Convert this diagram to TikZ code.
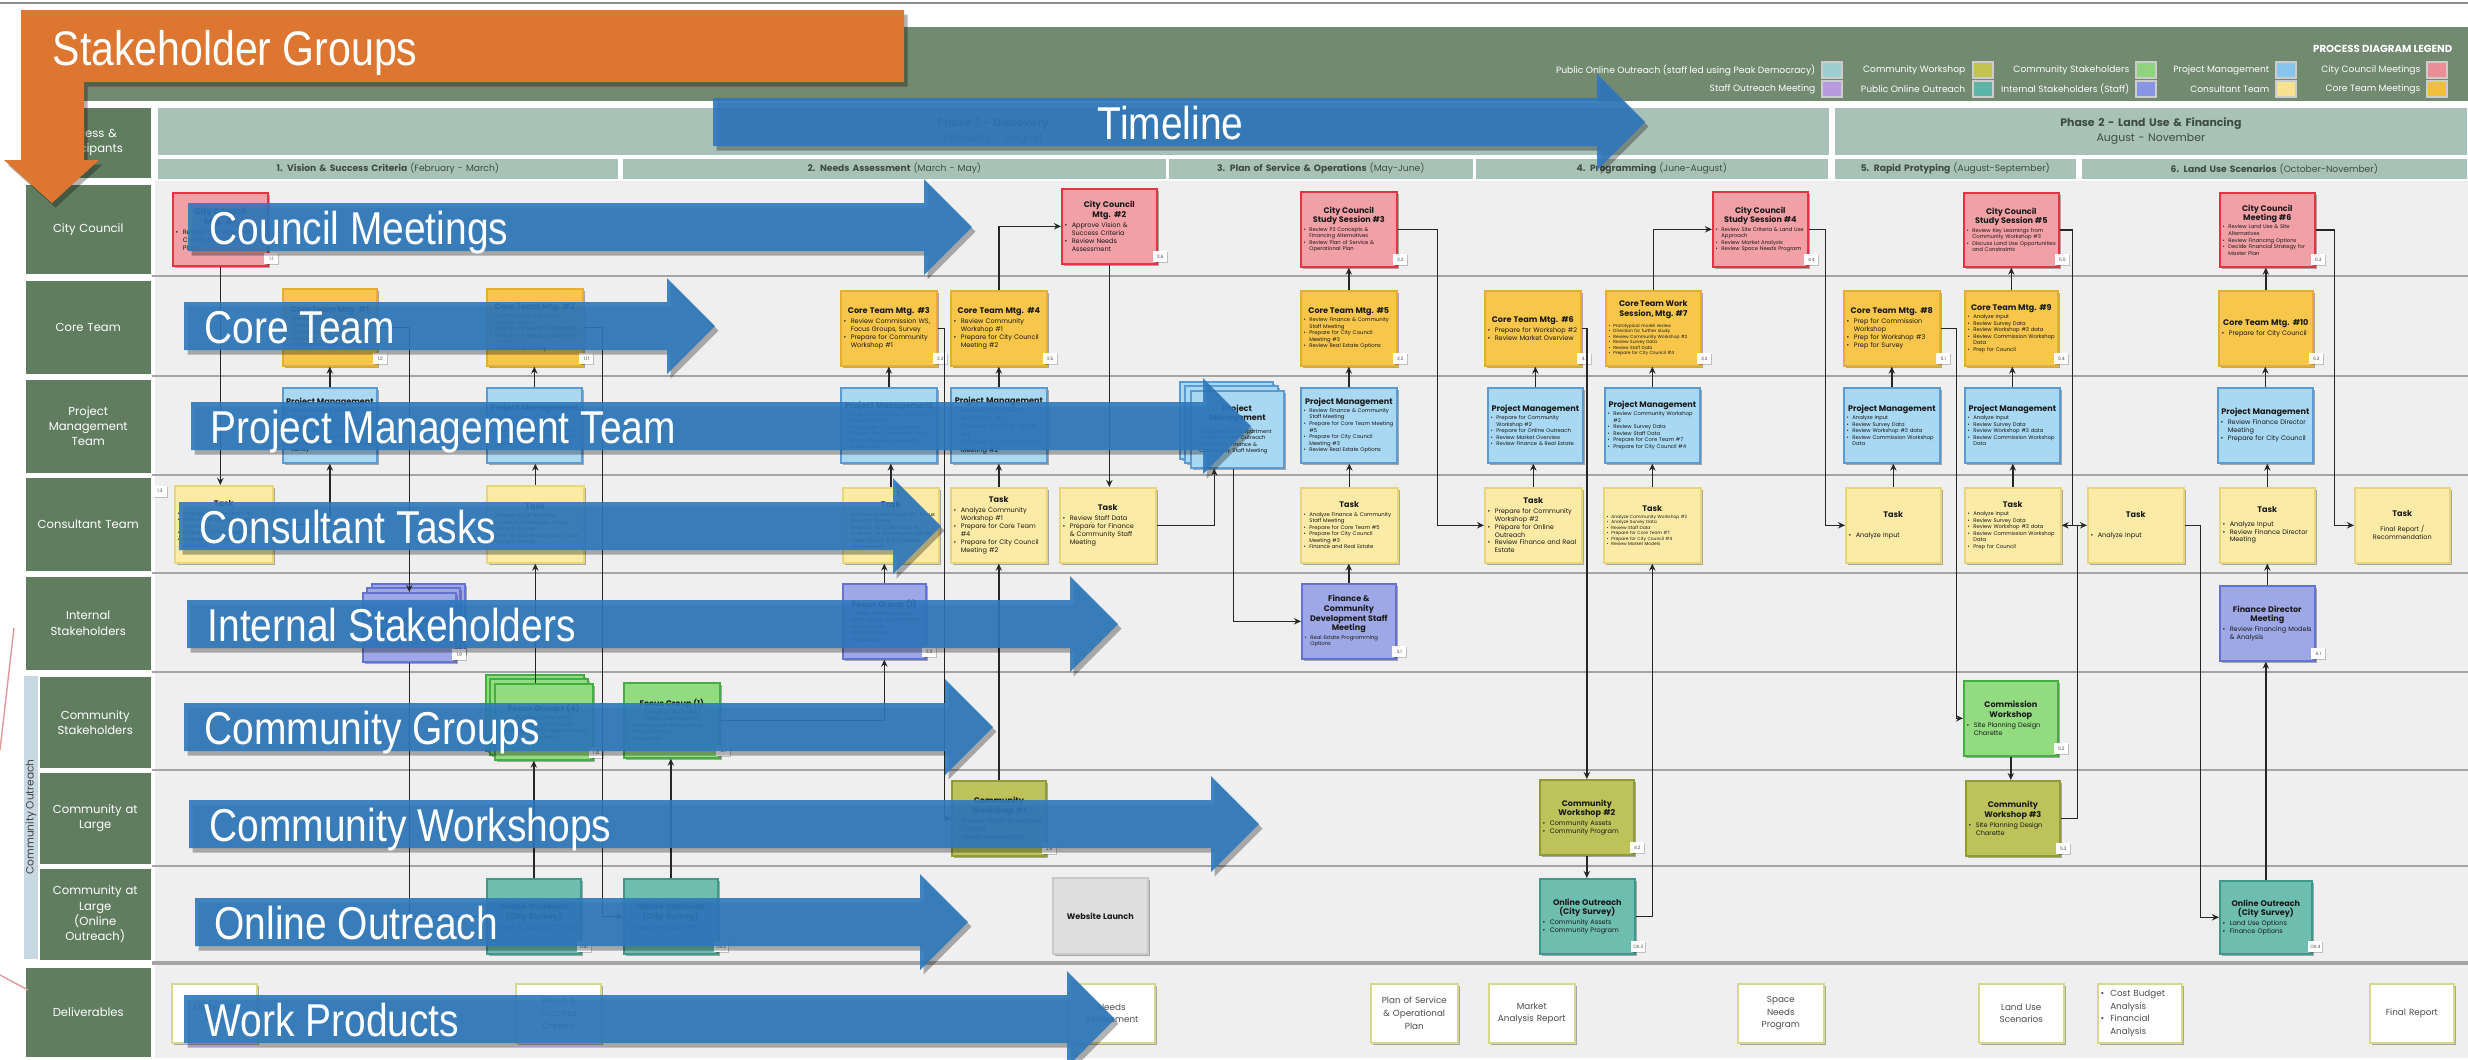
\documentclass[tikz,border=0pt]{standalone}
\usepackage{fontspec}
\setmainfont{Poppins}
\newfontfamily\bigf[FakeStretch=0.845]{Liberation Sans}
\usetikzlibrary{shadows,arrows.meta}
\definecolor{hdrgreen}{HTML}{718A70}
\definecolor{lblgreen}{HTML}{617D60}
\definecolor{phasecol}{HTML}{A9C2B7}
\definecolor{phtext}{HTML}{3C4C43}
\definecolor{lanebg}{HTML}{EFEFEF}
\definecolor{sepgray}{HTML}{A5A5A5}
\definecolor{ccfill}{HTML}{F1A0A6}\definecolor{ccdraw}{HTML}{E23445}
\definecolor{ctfill}{HTML}{F7C64A}\definecolor{ctdraw}{HTML}{E5AE2E}
\definecolor{pmfill}{HTML}{A8D8F2}\definecolor{pmdraw}{HTML}{5B9BD2}
\definecolor{tkfill}{HTML}{FCEBA6}\definecolor{tkdraw}{HTML}{E9D57C}
\definecolor{isfill}{HTML}{9FA8E6}\definecolor{isdraw}{HTML}{6373CF}
\definecolor{csfill}{HTML}{93DB80}\definecolor{csdraw}{HTML}{45AE40}
\definecolor{cwfill}{HTML}{BDC35A}\definecolor{cwdraw}{HTML}{8F9B35}
\definecolor{oofill}{HTML}{6EBEAF}\definecolor{oodraw}{HTML}{3F988A}
\definecolor{webfill}{HTML}{DEDEDE}\definecolor{webdraw}{HTML}{C9C9C9}
\definecolor{deldraw}{HTML}{D6D88C}
\definecolor{arrowblue}{HTML}{2E78BD}
\definecolor{orangec}{HTML}{DD7630}
\definecolor{stripc}{HTML}{C8D8E2}
\definecolor{lgA}{HTML}{9ECFD0}\definecolor{lgB}{HTML}{C3C34F}
\definecolor{lgC}{HTML}{8FD47C}\definecolor{lgD}{HTML}{88C4EC}
\definecolor{lgE}{HTML}{EC8E97}\definecolor{lgF}{HTML}{B89AE0}
\definecolor{lgG}{HTML}{5CB5A6}\definecolor{lgH}{HTML}{8895E2}
\definecolor{lgI}{HTML}{F6E290}\definecolor{lgJ}{HTML}{F1BF3E}
\hyphenpenalty=10000
\exhyphenpenalty=10000
\newcommand\bA{\fontsize{1.85pt}{2.25pt}\selectfont}
\newcommand\bB{\fontsize{1.5pt}{1.85pt}\selectfont}
\newcommand\bC{\fontsize{1.25pt}{1.55pt}\selectfont}
\newcommand\lF{\fontsize{3.3pt}{4.3pt}\selectfont}
\newcommand\phF{\fontsize{3.1pt}{4.4pt}\selectfont}
\newcommand\spF{\fontsize{2.6pt}{3pt}\selectfont}
\newcommand\dF{\fontsize{2.5pt}{3.6pt}\selectfont}
\newcommand\lgF{\fontsize{2.6pt}{3pt}\selectfont}
\newcommand\bxti[1]{{\centering\fontsize{2.3pt}{2.75pt}\selectfont\bfseries #1\par}\vspace{0.5pt}}
\newcommand\bxbl[1]{{\hangindent=1.1em\hangafter=1\noindent\hbox to 1.1em{\textbullet\hss}#1\par}}
\newcommand\subt[1]{{\centering #1\par}}
\tikzset{
 basebox/.style={draw, line width=0.45pt, inner xsep=0.8pt, inner ysep=1.2pt, align=left, font=\bA, text=black!90,
   drop shadow={shadow xshift=0.5pt,shadow yshift=-0.5pt,opacity=0.3,fill=black}},
 ccb/.style={basebox, fill=ccfill, draw=ccdraw},
 ctb/.style={basebox, fill=ctfill, draw=ctdraw},
 pmb/.style={basebox, fill=pmfill, draw=pmdraw},
 tkb/.style={basebox, fill=tkfill, draw=tkdraw},
 isb/.style={basebox, fill=isfill, draw=isdraw},
 csb/.style={basebox, fill=csfill, draw=csdraw},
 cwb/.style={basebox, fill=cwfill, draw=cwdraw},
 oob/.style={basebox, fill=oofill, draw=oodraw},
 webb/.style={basebox, fill=webfill, draw=webdraw, align=center},
 delb/.style={basebox, fill=white, draw=deldraw, align=center, font=\dF, text=black!70},
 lblb/.style={fill=lblgreen, text=white, align=center, font=\lF, inner sep=0.8pt},
 phaseb/.style={fill=phasecol, align=center, font=\phF, text=phtext, inner sep=0.8pt},
 subph/.style={fill=phasecol, align=center, font=\spF, text=phtext, inner sep=0.5pt},
 tagb/.style={fill=white, inner sep=0.3pt, minimum width=0.14cm, minimum height=0.11cm, font=\fontsize{1.3pt}{1.4pt}\selectfont, text=black!70,
   drop shadow={shadow xshift=0.3pt,shadow yshift=-0.3pt,opacity=0.2,fill=black}},
 conn/.style={draw=black!85, line width=0.45pt, -{Stealth[length=2pt,width=1.8pt]}},
 swatch/.style={minimum width=0.2cm, minimum height=0.16cm, inner sep=0pt, draw=white!80!black, line width=0.3pt},
 legtxt/.style={font=\lgF, text=white, inner sep=0pt},
 bigtxt/.style={font=\bigf\fontsize{13.1pt}{15pt}\selectfont, text=white, inner sep=0pt},
}
\newcommand\bx[7]{%
  \pgfmathsetmacro\bxw{(#5-#3)*0.284528}%
  \pgfmathsetmacro\bxh{(#6-#4)*0.284528}%
  \pgfmathsetmacro\bxt{\bxw-1.6}%
  \node[#2,anchor=north west,minimum width=\bxw pt,minimum height=\bxh pt,text width=\bxt pt] (#1) at (#3,#4) {#7};%
}
\newcommand\tg[2]{\node[tagb,anchor=south west] (#1t) at ([shift={(-5,-2)}]#1.south east) {#2};}
\newcommand\barrow[6]{%
  \fill[arrowblue,fill opacity=0.9,drop shadow={shadow xshift=1pt,shadow yshift=-1.3pt,opacity=0.3,fill=black}]
    (#2,#4-24) -- (#3,#4-24) -- (#3,#4-48) -- (#3+48,#4) -- (#3,#4+48) -- (#3,#4+24) -- (#2,#4+24) -- cycle;%
  \node[bigtxt,anchor=base west] (#1) at (#6,#4+17) {#5};%
}
\begin{document}
\begin{tikzpicture}[x=0.01cm,y=-0.01cm]
\useasboundingbox (0,0) rectangle (2468,1060);
\fill[white] (0,0) rectangle (2468,1060);
\draw[black!45, line width=0.7pt] (0,3) -- (2468,3);
% header band
\fill[hdrgreen] (25,27) rectangle (2468,101);
% legend
\node[font=\fontsize{2.9pt}{3.3pt}\selectfont\bfseries, text=white, anchor=east, inner sep=0pt] (legt) at (2453,49) {PROCESS DIAGRAM LEGEND};
\node[swatch, fill=lgA] (sw1) at (1832,70) {};
\node[legtxt, anchor=east] (lg1) at (1816,70) {Public Online Outreach (staff led using Peak Democracy)};
\node[swatch, fill=lgB] (sw2) at (1983,70) {};
\node[legtxt, anchor=east] (lg2) at (1966,70) {Community Workshop};
\node[swatch, fill=lgC] (sw3) at (2146,70) {};
\node[legtxt, anchor=east] (lg3) at (2130,70) {Community Stakeholders};
\node[swatch, fill=lgD] (sw4) at (2286,70) {};
\node[legtxt, anchor=east] (lg4) at (2270,70) {Project Management};
\node[swatch, fill=lgE] (sw5) at (2437,70) {};
\node[legtxt, anchor=east] (lg5) at (2421,70) {City Council Meetings};
\node[swatch, fill=lgF] (sw6) at (1832,89) {};
\node[legtxt, anchor=east] (lg6) at (1816,89) {Staff Outreach Meeting};
\node[swatch, fill=lgG] (sw7) at (1983,89) {};
\node[legtxt, anchor=east] (lg7) at (1966,89) {Public Online Outreach};
\node[swatch, fill=lgH] (sw8) at (2146,89) {};
\node[legtxt, anchor=east] (lg8) at (2130,89) {Internal Stakeholders (Staff)};
\node[swatch, fill=lgI] (sw9) at (2286,89) {};
\node[legtxt, anchor=east] (lg9) at (2270,89) {Consultant Team};
\node[swatch, fill=lgJ] (sw10) at (2437,89) {};
\node[legtxt, anchor=east] (lg10) at (2421,89) {Core Team Meetings};
% phase headers
\bx{ph0}{lblb}{25}{107}{150}{177}{Process \&\\Participants}
\bx{ph1}{phaseb}{157}{107}{1827}{154}{{\bfseries Phase 1 - Discovery}\\February - August}
\bx{ph2}{phaseb}{1834}{107}{2466}{154}{{\bfseries Phase 2 - Land Use \& Financing}\\August - November}
\bx{sp1}{subph}{157}{158}{617}{178}{{\bfseries 1. Vision \& Success Criteria} (February - March)}
\bx{sp2}{subph}{622}{158}{1165}{178}{{\bfseries 2. Needs Assessment} (March - May)}
\bx{sp3}{subph}{1168}{158}{1472}{178}{{\bfseries 3. Plan of Service \& Operations} (May-June)}
\bx{sp4}{subph}{1475}{158}{1827}{178}{{\bfseries 4. Programming} (June-August)}
\bx{sp5}{subph}{1834}{158}{2075}{178}{{\bfseries 5. Rapid Protyping} (August-September)}
\bx{sp6}{subph}{2081}{158}{2466}{178}{{\bfseries 6. Land Use Scenarios} (October-November)}
% lane labels
\bx{lcc}{lblb}{25}{184}{150}{273}{City Council}
\bx{lct}{lblb}{25}{280}{150}{373}{Core Team}
\bx{lpm}{lblb}{25}{379}{150}{472}{Project\\Management\\Team}
\bx{lco}{lblb}{25}{477}{150}{570}{Consultant Team}
\bx{lis}{lblb}{25}{576}{150}{669}{Internal\\Stakeholders}
\bx{lcs}{lblb}{39}{676}{150}{767}{Community\\Stakeholders}
\bx{lcl}{lblb}{39}{772}{150}{863}{Community at\\Large}
\bx{loo}{lblb}{39}{868}{150}{959}{Community at\\Large\\(Online\\Outreach)}
\bx{ldl}{lblb}{25}{967}{150}{1056}{Deliverables}
\fill[stripc] (24,676) rectangle (38,959);
\node[rotate=90, font=\fontsize{3pt}{3.4pt}\selectfont, text=black!75, inner sep=0pt] (coutt) at (31,817) {Community Outreach};
\draw[black!30!red!40!white, line width=0.4pt] (14,628) -- (0,750);
\draw[black!30!red!40!white, line width=0.4pt] (0,975) -- (28,990);
% lanes
\fill[lanebg] (155,181) rectangle (2468,1058);
\foreach \yy in {276,376,475,573,672,770,866} \draw[sepgray, line width=0.55pt] (152,\yy) -- (2468,\yy);
\draw[sepgray, line width=1pt] (152,963) -- (2468,963);
% City Council row
\bx{cc1}{ccb}{172}{192}{267}{265}{\bxti{City Council\\Mtg. \#1}\bxbl{Review and Approve Community Outreach Plan}}
\bx{cc2}{ccb}{1061}{188}{1156}{263}{\bxti{City Council\\Mtg. \#2}\bxbl{Approve Vision \& Success Criteria}\bxbl{Review Needs Assessment}}
\bx{cc3}{ccb,font=\bB}{1300}{191}{1396}{266}{\bxti{City Council\\Study Session \#3}\bxbl{Review P3 Concepts \& Financing Alternatives}\bxbl{Review Plan of Service \& Operational Plan}}
\bx{cc4}{ccb,font=\bB}{1712}{191}{1807}{266}{\bxti{City Council\\Study Session \#4}\bxbl{Review Site Criteria \& Land Use Approach}\bxbl{Review Market Analysis}\bxbl{Review Space Needs Program}}
\bx{cc5}{ccb,font=\bB}{1963}{192}{2058}{266}{\bxti{City Council\\Study Session \#5}\bxbl{Review Key Learnings from Community Workshop \#3}\bxbl{Discuss Land Use Opportunities and Constraints}}
\bx{cc6}{ccb,font=\bB}{2219}{192}{2314}{266}{\bxti{City Council\\Meeting \#6}\bxbl{Review Land Use \& Site Alternatives}\bxbl{Review Financing Options}\bxbl{Decide Financial Strategy for Master Plan}}
% Core Team row
\bx{ct1}{ctb,font=\bB}{282}{288}{376}{365}{\bxti{Core Team Mtg. \#1}\bxbl{Review Vision \& Success Criteria}\bxbl{Prepare for Key Informant Interviews}\bxbl{Prepare for Focus Groups}}
\bx{ct2}{ctb,font=\bB}{486}{288}{582}{365}{\bxti{Core Team Mtg. \#2}\bxbl{Review Vision \& Success Criteria Data}\bxbl{Prepare for Needs Assessment}\bxbl{Prepare for Needs Assessment Survey}\bxbl{Review Staff Survey}}
\bx{ct3}{ctb}{840}{290}{936}{365}{\bxti{Core Team Mtg. \#3}\bxbl{Review Commission WS, Focus Groups, Survey}\bxbl{Prepare for Community Workshop \#1}}
\bx{ct4}{ctb}{950}{290}{1046}{365}{\bxti{Core Team Mtg. \#4}\bxbl{Review Community Workshop \#1}\bxbl{Prepare for City Council Meeting \#2}}
\bx{ct5}{ctb,font=\bB}{1300}{290}{1396}{365}{\bxti{Core Team Mtg. \#5}\bxbl{Review Finance \& Community Staff Meeting}\bxbl{Prepare for City Council Meeting \#3}\bxbl{Review Real Estate Options}}
\bx{ct6}{ctb}{1484}{290}{1580}{365}{\bxti{Core Team Mtg. \#6}\bxbl{Prepare for Workshop \#2}\bxbl{Review Market Overview}}
\bx{ct7}{ctb,font=\bC}{1605}{290}{1700}{365}{\bxti{Core Team Work\\Session, Mtg. \#7}\bxbl{Prototypical model review}\bxbl{Direction for further study}\bxbl{Review Community Workshop \#2}\bxbl{Review Survey Data}\bxbl{Review Staff Data}\bxbl{Prepare for City Council \#4}}
\bx{ct8}{ctb}{1843}{290}{1939}{365}{\bxti{Core Team Mtg. \#8}\bxbl{Prep for Commission Workshop}\bxbl{Prep for Workshop \#3}\bxbl{Prep for Survey}}
\bx{ct9}{ctb,font=\bB}{1964}{290}{2057}{365}{\bxti{Core Team Mtg. \#9}\bxbl{Analyze Input}\bxbl{Review Survey Data}\bxbl{Review Workshop \#3 data}\bxbl{Review Commission Workshop Data}\bxbl{Prep for Council}}
\bx{ct10}{ctb}{2218}{290}{2312}{365}{\bxti{Core Team Mtg. \#10}\bxbl{Prepare for City Council}}
% Project Management row
\bx{pm1}{pmb,font=\bB}{282}{387}{376}{462}{\bxti{Project Management}\bxbl{Review Vision \& Success Criteria}\bxbl{Prepare for Key Informant Interviews}\bxbl{Prepare for Focus Groups}\bxbl{Prepare for Needs Assessment Survey}}
\bx{pm2}{pmb,font=\bB}{486}{387}{581}{462}{\bxti{Project Management}\bxbl{Review Vision \& Success Criteria}\bxbl{Prepare for Needs Assessment}\bxbl{Prepare for Needs Assessment Survey}}
\bx{pm3}{pmb,font=\bB}{840}{387}{936}{462}{\bxti{Project Management}\bxbl{Review Commission WS, Focus Groups, Survey}\bxbl{Prepare for Core Team \#3}\bxbl{Prepare for Community WS \#1}\bxbl{Open Space \& Site Needs Assessment}}
\bx{pm4}{pmb}{950}{387}{1046}{462}{\bxti{Project Management}\bxbl{Review Community Workshop \#1}\bxbl{Prepare for Core Team \#4}\bxbl{Prepare for City Council Meeting \#2}}
\draw[pmb] (1180,382) rectangle (1273,459);
\draw[pmb] (1185,386) rectangle (1278,463);
\bx{pms}{pmb,font=\bB}{1190}{390}{1283}{467}{\bxti{Project\\Management}\bxbl{Coordinate w/ Department Heads for Staff Outreach}\bxbl{Prepare for Finance \& Community Staff Meeting}}
\bx{pm5}{pmb,font=\bB}{1300}{387}{1396}{462}{\bxti{Project Management}\bxbl{Review Finance \& Community Staff Meeting}\bxbl{Prepare for Core Team Meeting \#5}\bxbl{Prepare for City Council Meeting \#3}\bxbl{Review Real Estate Options}}
\bx{pm6}{pmb,font=\bB}{1487}{387}{1582}{462}{\bxti{Project Management}\bxbl{Prepare for Community Workshop \#2}\bxbl{Prepare for Online Outreach}\bxbl{Review Market Overview}\bxbl{Review Finance \& Real Estate}}
\bx{pm7}{pmb,font=\bB}{1604}{387}{1699}{462}{\bxti{Project Management}\bxbl{Review Community Workshop \#2}\bxbl{Review Survey Data}\bxbl{Review Staff Data}\bxbl{Prepare for Core Team \#7}\bxbl{Prepare for City Council \#4}}
\bx{pm8}{pmb,font=\bB}{1843}{387}{1939}{462}{\bxti{Project Management}\bxbl{Analyze Input}\bxbl{Review Survey Data}\bxbl{Review Workshop \#3 data}\bxbl{Review Commission Workshop Data}}
\bx{pm9}{pmb,font=\bB}{1964}{387}{2059}{462}{\bxti{Project Management}\bxbl{Analyze Input}\bxbl{Review Survey Data}\bxbl{Review Workshop \#3 data}\bxbl{Review Commission Workshop Data}}
\bx{pm10}{pmb}{2217}{387}{2312}{462}{\bxti{Project Management}\bxbl{Review Finance Director Meeting}\bxbl{Prepare for City Council}}
% Consultant row
\bx{t1}{tkb,font=\bB}{174}{485}{272}{562}{\bxti{Task}\bxbl{Prepare for Core Team \#1}\bxbl{Prepare for Key Informant Interviews}\bxbl{Prepare for Focus Groups}\bxbl{Prepare for Community Outreach}}
\bx{t2}{tkb,font=\bB}{486}{485}{583}{562}{\bxti{Task}\bxbl{Analyze Input from Key Informant Interviews, Focus Groups, Survey}\bxbl{Prep for Commission WS, Focus Groups, Survey}}
\bx{t3}{tkb,font=\bB}{842}{487}{938}{562}{\bxti{Task}\bxbl{Analyze Commission WS, Focus Groups, Survey}\bxbl{Prepare for Core Team \#3}\bxbl{Prepare for Community WS \#1}\bxbl{Open Space \& Site Needs Assessment}}
\bx{t4}{tkb}{950}{487}{1046}{562}{\bxti{Task}\bxbl{Analyze Community Workshop \#1}\bxbl{Prepare for Core Team \#4}\bxbl{Prepare for City Council Meeting \#2}}
\bx{t5}{tkb}{1059}{487}{1155}{562}{\bxti{Task}\bxbl{Review Staff Data}\bxbl{Prepare for Finance \& Community Staff Meeting}}
\bx{t6}{tkb,font=\bB}{1300}{487}{1397}{562}{\bxti{Task}\bxbl{Analyze Finance \& Community Staff Meeting}\bxbl{Prepare for Core Team \#5}\bxbl{Prepare for City Council Meeting \#3}\bxbl{Finance and Real Estate}}
\bx{t7}{tkb}{1484}{487}{1581}{562}{\bxti{Task}\bxbl{Prepare for Community Workshop \#2}\bxbl{Prepare for Online Outreach}\bxbl{Review Finance and Real Estate}}
\bx{t8}{tkb,font=\bC}{1603}{487}{1700}{562}{\bxti{Task}\bxbl{Analyze Community Workshop \#2}\bxbl{Analyze Survey Data}\bxbl{Review Staff Data}\bxbl{Prepare for Core Team \#7}\bxbl{Prepare for City Council \#4}\bxbl{Review Market Models}}
\bx{t9}{tkb}{1845}{487}{1940}{562}{\bxti{Task}\vspace{3pt}\bxbl{Analyze Input}}
\bx{t10}{tkb,font=\bB}{1964}{487}{2060}{562}{\bxti{Task}\bxbl{Analyze Input}\bxbl{Review Survey Data}\bxbl{Review Workshop \#3 data}\bxbl{Review Commission Workshop Data}\bxbl{Prep for Council}}
\bx{t11}{tkb}{2087}{487}{2183}{562}{\bxti{Task}\vspace{3pt}\bxbl{Analyze Input}}
\bx{t12}{tkb}{2219}{487}{2314}{562}{\bxti{Task}\vspace{1pt}\bxbl{Analyze Input}\bxbl{Review Finance Director Meeting}}
\bx{t13}{tkb}{2354}{487}{2449}{562}{\bxti{Task}\vspace{1.5pt}{\centering Final Report /\\Recommendation\par}}
% Internal stakeholders row
\draw[isb] (372,584) rectangle (465,653);
\draw[isb] (367,588) rectangle (460,657);
\bx{ki}{isb,font=\bB}{362}{592}{455}{661}{\bxti{Key Informant\\Interviews (7)}}
\bx{fg1}{isb,font=\bB}{842}{583}{925}{658}{\bxti{Focus Group (1)}\subt{Parks and Recreation}\bxbl{Open Space \& Site Needs Assessment}\bxbl{Plan of Service}\bxbl{Operations}}
\bx{fin}{isb,font=\bB}{1301}{583}{1395}{658}{\bxti{Finance \&\\Community\\Development Staff\\Meeting}\bxbl{Real Estate Programming Options}}
\bx{findir}{isb}{2219}{585}{2314}{660}{\bxti{Finance Director\\Meeting}\bxbl{Review Financing Models \& Analysis}}
% Community stakeholders row
\draw[csb] (486,675) rectangle (584,751);
\draw[csb] (490,679) rectangle (588,755);
\bx{fg4}{csb,font=\bB}{494}{683}{592}{759}{\bxti{Focus Groups (4)}\subt{Business Community\\Community Gardeners\\Washington Park Neighborhood Association}}
\bx{fg1b}{csb,font=\bB}{623}{682}{719}{757}{\bxti{Focus Group (1)}\subt{Friends of the Library\\Library Commission}\bxbl{Library Needs Assessment}\bxbl{Plan of Service}\bxbl{Operations}}
\bx{comws}{csb}{1963}{680}{2057}{755}{\bxti{Commission\\Workshop}\bxbl{Site Planning Design Charette}}
% Community at large row
\bx{cw1}{cwb}{951}{780}{1045}{855}{\bxti{Community\\Workshop \#1}\bxbl{Review Vision \& Success Criteria}\bxbl{Needs Assessment}}
\bx{cw2}{cwb}{1539}{779}{1633}{854}{\bxti{Community\\Workshop \#2}\bxbl{Community Assets}\bxbl{Community Program}}
\bx{cw3}{cwb}{1965}{780}{2059}{855}{\bxti{Community\\Workshop \#3}\bxbl{Site Planning Design Charette}}
% Online outreach row
\bx{oo1}{oob}{486}{878}{580}{953}{\bxti{Online Outreach\\(City Survey)}\bxbl{Vision \& Success Criteria}}
\bx{oo2}{oob}{623}{878}{717}{953}{\bxti{Online Outreach\\(City Survey)}\bxbl{Needs Assessment}}
\bx{web}{webb}{1052}{877}{1147}{953}{\fontsize{2.3pt}{2.7pt}\selectfont\bfseries Website Launch}
\bx{oo3}{oob}{1539}{878}{1634}{953}{\bxti{Online Outreach\\(City Survey)}\bxbl{Community Assets}\bxbl{Community Program}}
\bx{oo4}{oob}{2219}{880}{2311}{953}{\bxti{Online Outreach\\(City Survey)}\bxbl{Land Use Options}\bxbl{Finance Options}}
% Deliverables row
\bx{d1}{delb}{171}{983}{256}{1042}{Outreach\\Plan}
\bx{d2}{delb}{515}{983}{600}{1042}{Vision \&\\Success\\Criteria}
\bx{d3}{delb}{1068}{983}{1154}{1042}{Needs\\Assessment}
\bx{d4}{delb}{1370}{983}{1457}{1042}{Plan of Service\\\& Operational\\Plan}
\bx{d5}{delb}{1488}{983}{1574}{1042}{Market\\Analysis Report}
\bx{d6}{delb}{1737}{983}{1823}{1042}{Space\\Needs\\Program}
\bx{d7}{delb}{1978}{983}{2063}{1042}{Land Use\\Scenarios}
\bx{d8}{delb,align=left}{2097}{983}{2181}{1042}{\bxbl{Cost Budget Analysis}\bxbl{Financial Analysis}}
\bx{d9}{delb}{2369}{983}{2453}{1042}{Final Report}
% tags
\tg{cc1}{1.1}\tg{cc2}{2.6}\tg{cc3}{3.3}\tg{cc4}{4.4}\tg{cc5}{5.5}\tg{cc6}{6.3}
\tg{ct1}{1.2}\tg{ct2}{1.11}\tg{ct3}{2.3}\tg{ct4}{2.5}\tg{ct5}{3.2}\tg{ct6}{4.1}\tg{ct7}{4.3}\tg{ct8}{5.1}\tg{ct9}{5.4}\tg{ct10}{6.2}
\tg{ki}{1.9}\tg{fg1}{2.2}\tg{fin}{3.1}\tg{findir}{6.1}
\tg{fg4}{1.12}\tg{fg1b}{2.1}\tg{comws}{5.2}
\tg{cw1}{2.4}\tg{cw2}{4.2}\tg{cw3}{5.3}
\tg{oo1}{OS.1}\tg{oo2}{OS.2}\tg{oo3}{OS.3}\tg{oo4}{OS.4}
\node[tagb] (t1t) at (160,491) {1.3};
% connectors
\draw[conn] (cc1.south) -- (cc1.south |- t1.north);
\draw[conn] (t1.east) -| (pm1.south);
\draw[conn] (pm1.north) -- (pm1.north |- ct1.south);
\draw[conn] (ct1.east) -| (ki.north);
\draw[conn] (ki.south) |- (oo1.west);
\draw[conn] (oo1.north) -- (oo1.north |- fg4.south);
\draw[conn] (t2.south |- fg4.north) -- (t2.south);
\draw[conn] (t2.north) -- (t2.north |- pm2.south);
\draw[conn] (pm2.north) -- (pm2.north |- ct2.south);
\draw[conn] (ct2.east) -- ++(19,0) |- (oo2.west);
\draw[conn] (oo2.north) -- (oo2.north |- fg1b.south);
\draw[conn] (fg1b.east) -| (fg1.south);
\draw[conn] (fg1.north) -- (fg1.north |- t3.south);
\draw[conn] (t3.north) -- (t3.north |- pm3.south);
\draw[conn] (pm3.north) -- (pm3.north |- ct3.south);
\draw[conn] (ct3.east) -- ++(7,0) |- (cw1.west);
\draw[conn] (cw1.north) -- (cw1.north |- t4.south);
\draw[conn] (t4.north) -- (t4.north |- pm4.south);
\draw[conn] (pm4.north) -- (pm4.north |- ct4.south);
\draw[conn] (ct4.north) |- (cc2.west);
\draw[conn] (cc2.south) -- (cc2.south |- t5.north);
\draw[conn] (t5.east) -| ([xshift=-0.23cm]pms.south);
\draw[conn] ([xshift=-0.04cm]pms.south) |- (fin.west);
\draw[conn] (fin.north) -- (fin.north |- t6.south);
\draw[conn] (t6.north) -- (t6.north |- pm5.south);
\draw[conn] (pm5.north) -- (pm5.north |- ct5.south);
\draw[conn] (ct5.north) -- (ct5.north |- cc3.south);
\draw[conn] (cc3.east) -- ++(40,0) |- (t7.west);
\draw[conn] (t7.north) -- (t7.north |- pm6.south);
\draw[conn] (pm6.north) -- (pm6.north |- ct6.south);
\draw[conn] (ct6.east) -| (cw2.north);
\draw[conn] (cw2.south) -- (cw2.south |- oo3.north);
\draw[conn] (oo3.east) -| (t8.south);
\draw[conn] (t8.north) -- (t8.north |- pm7.south);
\draw[conn] (pm7.north) -- (pm7.north |- ct7.south);
\draw[conn] (ct7.north) |- (cc4.west);
\draw[conn] (cc4.east) -- ++(17,0) |- (t9.west);
\draw[conn] (t9.north) -- (t9.north |- pm8.south);
\draw[conn] (pm8.north) -- (pm8.north |- ct8.south);
\draw[conn] (ct8.east) -- ++(16,0) |- (comws.west);
\draw[conn] (comws.south) -- (comws.south |- cw3.north);
\draw[conn] (cw3.east) -- ++(17,0) |- (t10.east);
\draw[conn] (t10.north) -- (t10.north |- pm9.south);
\draw[conn] (pm9.north) -- (pm9.north |- ct9.south);
\draw[conn] (ct9.north) -- (ct9.north |- cc5.south);
\draw[conn] (cc5.east) -- ++(13,0) |- (t11.west);
\draw[conn] (t11.east) -- ++(16,0) |- (oo4.west);
\draw[conn] (oo4.north) -- (oo4.north |- findir.south);
\draw[conn] (findir.north) -- (findir.north |- t12.south);
\draw[conn] (t12.north) -- (t12.north |- pm10.south);
\draw[conn] (pm10.north) -- (pm10.north |- ct10.south);
\draw[conn] (ct10.north) -- (ct10.north |- cc6.south);
\draw[conn] (cc6.east) -- ++(19,0) |- (t13.west);
% blue overlay arrows
\barrow{timeline}{713}{1597}{122}{Timeline}{1097}
\barrow{council}{188}{924}{227}{Council Meetings}{209}
\barrow{coreteam}{184}{667}{326}{Core Team}{204}
\barrow{pmteam}{191}{1203}{426}{Project Management Team}{210}
\barrow{constasks}{179}{893}{526}{Consultant Tasks}{199}
\barrow{internal}{187}{1070}{624}{Internal Stakeholders}{207}
\barrow{cgroups}{184}{945}{727}{Community Groups}{204}
\barrow{cworkshops}{189}{1211}{824}{Community Workshops}{209}
\barrow{online}{195}{920}{922}{Online Outreach}{214}
\barrow{workprod}{184}{1067}{1019}{Work Products}{204}
% orange stakeholder arrow
\fill[orangec, drop shadow={shadow xshift=1pt,shadow yshift=-1.3pt,opacity=0.3,fill=black}]
  (21,10) -- (904,10) -- (904,82) -- (84,82) -- (84,160) -- (99,160) -- (52,203) -- (4,160) -- (21,160) -- cycle;
\node[bigtxt, font=\bigf\fontsize{13.8pt}{15pt}\selectfont, anchor=base west] (stake) at (52,65) {Stakeholder Groups};
\end{tikzpicture}
\end{document}
